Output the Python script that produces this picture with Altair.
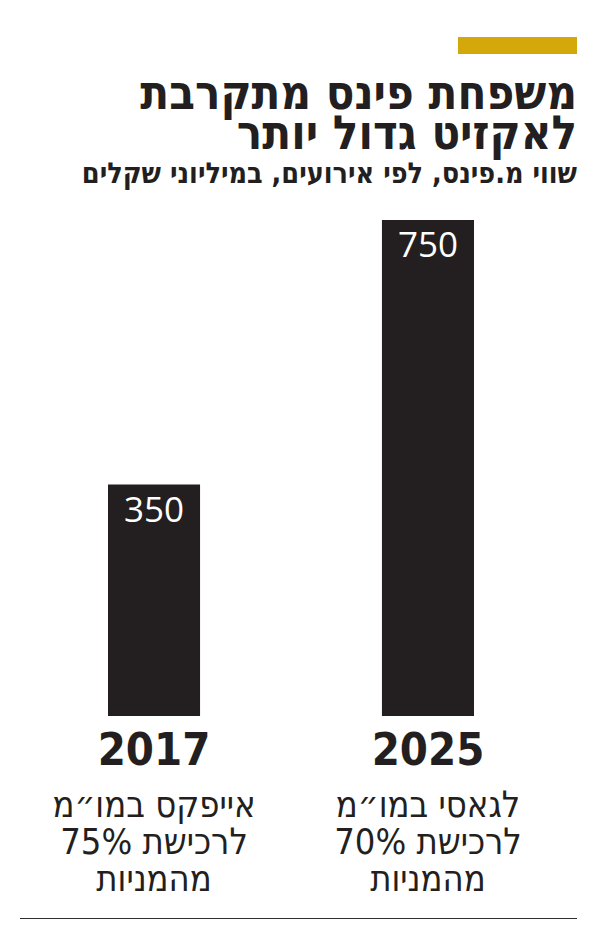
import altair as alt
import pandas as pd

years = ["2017", "2025"]
values = [350, 750]
value_labels = ["350", "750"]
descriptions = ["אייפקס במו\u05f4מ\nלרכישת 75%\nמהמניות", "לגאסי במו\u05f4מ\nלרכישת 70%\nמהמניות"]
title_lines = ["משפחת פינס מתקרבת", "לאקזיט גדול יותר"]
subtitle = "שווי מ.פינס, לפי אירועים, במיליוני שקלים"

df = pd.DataFrame({"year": years, "value": values, "label": value_labels, "desc": descriptions})

PLOT_TOP = 212   # padding top so plot starts at page y=220
H = 496
W = 569
HEB = "DejaVu Sans Condensed"

x = alt.X("year:N", sort=years, axis=None,
          scale=alt.Scale(range=[100, 466], paddingInner=0.664, paddingOuter=0))
y = alt.Y("value:Q", axis=None, scale=alt.Scale(domain=[0, 750], nice=False, zero=True))
xt = alt.X("year:N", sort=years, axis=None)

base = alt.Chart(df)

bars = base.mark_bar(color="#231F20").encode(x=x, y=y)

vals = base.mark_text(color="white", font="Open Sans", fontSize=35, baseline="top", dy=9).encode(
    x=xt, y=y, text="label:N")

yrs = base.mark_text(color="#231F20", font=HEB, fontWeight="bold",
                     fontSize=45, baseline="middle").encode(
    x=xt, y=alt.value(531), text="year:N")

desc = base.mark_text(color="#231F20", font=HEB, fontSize=36,
                      baseline="alphabetic", lineBreak="\n", lineHeight=37).encode(
    x=xt, y=alt.value(597), text="desc:N")

gold = alt.Chart(df).mark_rect(color="#D4A80A").encode(
    x=alt.value(450), x2=alt.value(569), y=alt.value(-183), y2=alt.value(-166))

rule = alt.Chart(df).mark_rule(color="#231F20", strokeWidth=3.5).encode(
    x=alt.value(12), x2=alt.value(569), y=alt.value(700))

tdf = pd.DataFrame({"t1": [title_lines[0]], "t2": [title_lines[1]], "s": [subtitle]})
title1 = alt.Chart(tdf).mark_text(color="#231F20", font=HEB, fontWeight="bold",
                                  fontSize=47, align="right", baseline="alphabetic").encode(
    x=alt.value(569), y=alt.value(-111), text="t1:N")
title2 = alt.Chart(tdf).mark_text(color="#231F20", font=HEB, fontWeight="bold",
                                  fontSize=47, align="right", baseline="alphabetic").encode(
    x=alt.value(569), y=alt.value(-71), text="t2:N")
sub = alt.Chart(tdf).mark_text(color="#231F20", font=HEB, fontWeight="bold",
                               fontSize=28.5, align="right", baseline="alphabetic").encode(
    x=alt.value(569), y=alt.value(-37), text="s:N")

chart = alt.layer(gold, title1, title2, sub, bars, vals, yrs, desc, rule).properties(
    width=W, height=H,
    background="white",
    autosize=alt.AutoSizeParams(type="none"),
    padding={"left": 0, "top": PLOT_TOP, "right": 16, "bottom": 203},
).configure_view(strokeWidth=0, stroke=None)

chart.save("out.html", embed_options={"renderer": "svg", "actions": False})
